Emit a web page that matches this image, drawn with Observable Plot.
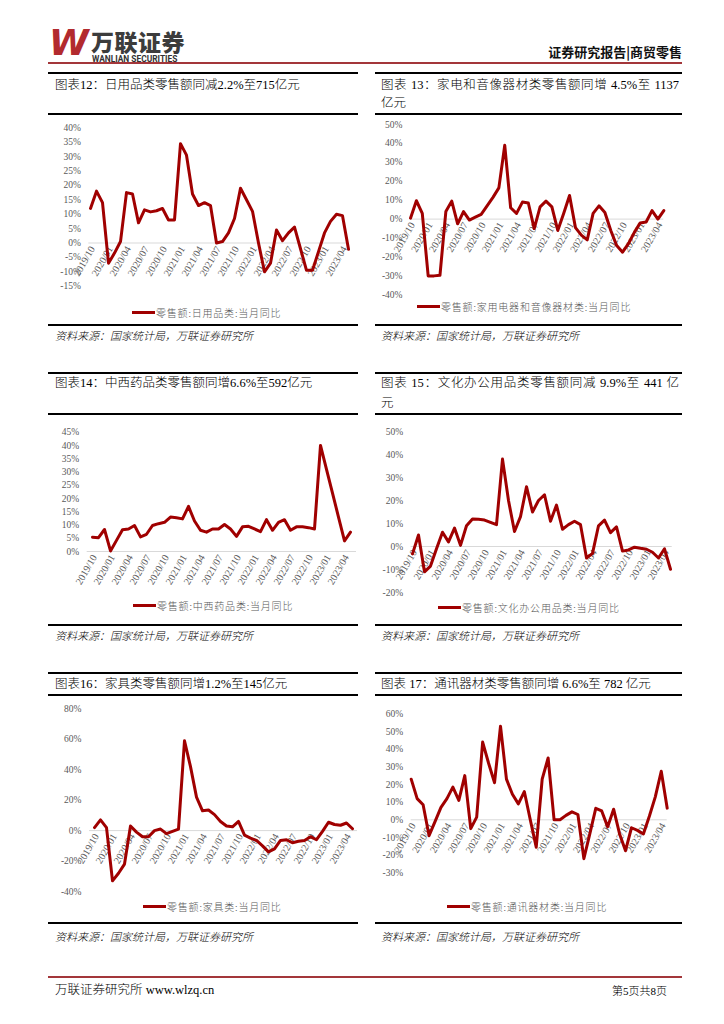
<!DOCTYPE html>
<html><head><meta charset="utf-8">
<script src="https://cdn.jsdelivr.net/npm/d3@7"></script>
<script src="https://cdn.jsdelivr.net/npm/@observablehq/plot@0.6"></script>
<style>
body{margin:0;background:#fff;}
#page{position:relative;width:724px;height:1024px;overflow:hidden;background:#fff;font-family:"Liberation Serif","Noto Sans CJK SC",serif;color:#000;}
.rule{position:absolute;height:2px;background:#000;}
.title{position:absolute;font-size:12.5px;line-height:18px;white-space:nowrap;font-weight:300;}
.just{text-align:justify;text-align-last:justify;white-space:normal;}
.src{position:absolute;font-size:11px;font-style:italic;line-height:14px;white-space:nowrap;font-weight:300;}
.legend{position:absolute;display:flex;align-items:center;height:14px;font-family:"Noto Sans CJK SC",sans-serif;font-size:10px;font-weight:300;color:#595959;letter-spacing:0.8px;white-space:nowrap;}
.legend .sw{display:inline-block;width:23px;height:3px;background:#a00000;margin-right:1px;}
.chart{position:absolute;}
.chart svg{overflow:visible;}
</style></head>
<body><div id="page">
  <!-- header -->
  <div style="position:absolute;left:49px;top:23px;font-family:'DejaVu Sans',sans-serif;font-weight:bold;font-style:italic;font-size:36px;color:#b22a2e;line-height:40px;letter-spacing:-2px;">W</div>
  <div style="position:absolute;left:91px;top:30px;font-family:'Noto Sans CJK SC';font-weight:900;font-size:23px;line-height:22px;color:#3c3c3c;letter-spacing:0.5px;">万联证券</div>
  <div style="position:absolute;left:92px;top:55.5px;font-family:Roboto,sans-serif;font-weight:bold;font-size:8.4px;line-height:7px;color:#333;">WANLIAN SECURITIES</div>
  <div style="position:absolute;right:42px;top:44px;font-family:'Noto Sans CJK SC';font-weight:bold;font-size:13px;line-height:16px;color:#111;">证券研究报告|商贸零售</div>
  <div style="position:absolute;left:48px;top:62px;width:634px;height:1.5px;background:#a3363a;"></div>

  <!-- row 1 -->
  <div class="rule" style="left:48px;top:72px;width:310px;"></div>
  <div class="rule" style="left:375px;top:72px;width:307px;"></div>
  <div class="title" style="left:55px;top:76px;">图表12：日用品类零售额同减2.2%至715亿元</div>
  <div class="title just" style="left:381px;top:76px;width:298px;">图表 13：家电和音像器材类零售额同增 4.5%至 1137</div>
  <div class="title" style="left:381px;top:94px;">亿元</div>
  <div class="rule" style="left:48px;top:113px;width:310px;"></div>
  <div class="rule" style="left:375px;top:113px;width:307px;"></div>
  <div class="rule" style="left:48px;top:324px;width:310px;"></div>
  <div class="rule" style="left:375px;top:324px;width:307px;"></div>
  <div class="src" style="left:55px;top:329px;">资料来源：国家统计局，万联证券研究所</div>
  <div class="src" style="left:381px;top:329px;">资料来源：国家统计局，万联证券研究所</div>

  <!-- row 2 -->
  <div class="rule" style="left:48px;top:372px;width:310px;"></div>
  <div class="rule" style="left:375px;top:372px;width:307px;"></div>
  <div class="title" style="left:55px;top:374px;">图表14：中西药品类零售额同增6.6%至592亿元</div>
  <div class="title just" style="left:381px;top:374px;width:298px;">图表 15：文化办公用品类零售额同减 9.9%至 441 亿</div>
  <div class="title" style="left:381px;top:394px;">元</div>
  <div class="rule" style="left:48px;top:413px;width:310px;"></div>
  <div class="rule" style="left:375px;top:413px;width:307px;"></div>
  <div class="rule" style="left:48px;top:624px;width:310px;"></div>
  <div class="rule" style="left:375px;top:624px;width:307px;"></div>
  <div class="src" style="left:55px;top:629px;">资料来源：国家统计局，万联证券研究所</div>
  <div class="src" style="left:381px;top:629px;">资料来源：国家统计局，万联证券研究所</div>

  <!-- row 3 -->
  <div class="rule" style="left:48px;top:672px;width:310px;"></div>
  <div class="rule" style="left:375px;top:672px;width:307px;"></div>
  <div class="title" style="left:55px;top:675px;">图表16：家具类零售额同增1.2%至145亿元</div>
  <div class="title" style="left:381px;top:675px;">图表 17：通讯器材类零售额同增 6.6%至 782 亿元</div>
  <div class="rule" style="left:48px;top:694px;width:310px;"></div>
  <div class="rule" style="left:375px;top:694px;width:307px;"></div>
  <div class="rule" style="left:48px;top:922px;width:310px;"></div>
  <div class="rule" style="left:375px;top:922px;width:307px;"></div>
  <div class="src" style="left:55px;top:930px;">资料来源：国家统计局，万联证券研究所</div>
  <div class="src" style="left:381px;top:930px;">资料来源：国家统计局，万联证券研究所</div>

  <!-- footer -->
  <div style="position:absolute;left:48px;top:976px;width:634px;height:2px;background:#a3363a;"></div>
  <div style="position:absolute;left:55px;top:982px;font-size:12.5px;line-height:16px;font-weight:300;">万联证券研究所 www.wlzq.cn</div>
  <div style="position:absolute;right:57px;top:983px;font-size:11px;line-height:16px;font-weight:300;">第5页共8页</div>
</div>
<script>
// ---- categories ----
const months = ["2019/10","2019/11","2019/12",
  "2020/01","2020/02","2020/03","2020/04","2020/05","2020/06","2020/07","2020/08","2020/09","2020/10","2020/11","2020/12",
  "2021/01","2021/02","2021/03","2021/04","2021/05","2021/06","2021/07","2021/08","2021/09","2021/10","2021/11","2021/12",
  "2022/01","2022/02","2022/03","2022/04","2022/05","2022/06","2022/07","2022/08","2022/09","2022/10","2022/11","2022/12",
  "2023/01","2023/02","2023/03","2023/04","2023/05"];
const tickLabels = ["2019/10","2020/01","2020/04","2020/07","2020/10","2021/01","2021/04","2021/07","2021/10","2022/01","2022/04","2022/07","2022/10","2023/01","2023/04"];

// ---- series values (%), 当月同比 ----
const dailyGoods = [12, 18, 14, -7, -3.5, 0.5, 17.5, 17, 7, 11.5, 10.8, 11.2, 12, 8, 8, 34.5, 30.5, 17, 13, 14, 13, 0, 0.5, 3.5, 8.5, 19, 15, 11, 0, -10, -7, 4.5, 0.8, 3.5, 5.5, -2, -9.5, -9.5, -3, 3.5, 7.5, 10, 9.5, -2.2];
const appliances = [0.5, 9.7, 3, -30, -30, -29.7, 4, 9.5, -2.5, 4, -0.5, 1, 2.5, 7, 11.5, 16.5, 39, 6, 3, 9, 8.5, -5, 6.5, 9.5, 6.5, -6, 3, 12.5, -4.5, -8.5, -11, 3, 7, 3.5, -6, -14, -17.5, -13, -7, -2, -1.5, 4.5, 0, 4.5];
const medicine = [5.4, 5.2, 8.3, 0.2, 4.2, 8.2, 8.5, 9.8, 5.5, 6.5, 9.8, 10.5, 11, 13, 12.7, 12.3, 17, 11.5, 8, 7.3, 8.5, 8.5, 10.2, 8.5, 5.7, 9.3, 9.5, 8.5, 7.5, 12, 8, 11, 12, 8, 9.3, 9.3, 9, 8.5, 40, 31, 22, 13, 4, 7.3];
const office = [-3.2, 5, -11, -8.5, -1, 6.2, 2, 8, 0.5, 9, 12, 11.8, 11.5, 10.5, 9.5, 38, 20, 6.5, 13, 26, 15, 20, 22.5, 11, 18, 7.5, 9.5, 11, 9.5, -5, -3, 9, 11.5, 6, 8.5, -2, -1.5, -0.3, -0.8, -1.2, -2.5, -5, -1, -9.9];
const furniture = [2, 7, 2, -33, -28, -22, 3, -1, -4, -4, 0, 1, -2, -0.5, 1, 59, 42, 22, 13, 13.5, 10.5, 6, 3, 2.5, 6, -3, -5, -6.5, -10, -14, -12, -6.5, -6, -8, -7, -6.5, -4, -6, -0.5, 5.5, 4, 3.5, 5, 1.2];
const telecom = [23, 12, 8.5, -9, -1, 7, 12, 18.5, 11, 25, -5, 1.5, 44, 32, 21, 53, 23, 14.5, 9, 16, 0, -15.5, 23, 35, 0, 0, 2.5, 4.5, 3, -22, -8, 6.5, 5, -4, 6, -8, -17.5, -4.5, -6, -8, 2, 13, 27.5, 6.6];

// ---- y tick labels ----
const ticks12 = [40, 35, 30, 25, 20, 15, 10, 5, 0, -5, -10, -15];
const ticks13 = [50, 40, 30, 20, 10, 0, -10, -20, -30, -40];
const ticks14 = [45, 40, 35, 30, 25, 20, 15, 10, 5, 0];
const ticks15 = [50, 40, 30, 20, 10, 0, -10, -20];
const ticks16 = [80, 60, 40, 20, 0, -20, -40];
const ticks17 = [60, 50, 40, 30, 20, 10, 0, -10, -20, -30];

// ---- legend texts ----
const legendTexts = ["零售额:日用品类:当月同比","零售额:家用电器和音像器材类:当月同比","零售额:中西药品类:当月同比","零售额:文化办公用品类:当月同比","零售额:家具类:当月同比","零售额:通讯器材类:当月同比"];

const LINE = "#a00000";
const charts = [
  {values: dailyGoods, ticks: ticks12, left:48, top:115, w:310, h:188, ml:40.3, mr:9, mt:12.3, mb:17.3, lgLeft:132, lgY:312},
  {values: appliances, ticks: ticks13, left:376, top:115, w:306, h:190, ml:34, mr:18.7, mt:9, mb:10.7, lgLeft:417, lgY:306.7},
  {values: medicine, ticks: ticks14, left:48, top:420, w:310, h:175, ml:38.7, mr:2, mt:11.7, mb:44, lgLeft:133, lgY:605},
  {values: office, ticks: ticks15, left:376, top:420, w:306, h:180, ml:34.7, mr:10.3, mt:11, mb:8, lgLeft:438, lgY:607},
  {values: furniture, ticks: ticks16, left:48, top:700, w:310, h:198, ml:41, mr:1, mt:8.3, mb:7, lgLeft:143, lgY:906},
  {values: telecom, ticks: ticks17, left:376, top:700, w:306, h:180, ml:34.7, mr:15.3, mt:13.3, mb:7.7, lgLeft:447, lgY:906}
];

const page = document.getElementById("page");
charts.forEach((c, k) => {
  const data = months.map((m, i) => ({month: m, value: c.values[i]}));
  const svg = Plot.plot({
    width: c.w, height: c.h,
    marginLeft: c.ml, marginRight: c.mr, marginTop: c.mt, marginBottom: c.mb,
    style: {background: "transparent", fontFamily: "'Liberation Serif', serif", fontSize: "9.5px", color: "#595959", overflow: "visible"},
    x: {type: "point", domain: months, padding: 0, axis: null},
    y: {domain: [d3.min(c.ticks), d3.max(c.ticks)], ticks: c.ticks, tickFormat: d => d + "%", tickSize: 0, tickPadding: 8, label: null},
    marks: [
      Plot.ruleY([0], {stroke: "#d9d9d9", strokeWidth: 1}),
      Plot.text(tickLabels, {x: d => d, y: () => 0, text: d => d, rotate: -60, textAnchor: "end", dx: 2, dy: 4, fontSize: 10, fill: "#595959"}),
      Plot.line(data, {x: "month", y: "value", stroke: LINE, strokeWidth: 3})
    ]
  });
  const div = document.createElement("div");
  div.className = "chart";
  div.style.left = c.left + "px";
  div.style.top = c.top + "px";
  div.appendChild(svg);
  page.appendChild(div);

  const lg = document.createElement("div");
  lg.className = "legend";
  lg.style.left = c.lgLeft + "px";
  lg.style.top = (c.lgY - 7) + "px";
  const sw = document.createElement("span");
  sw.className = "sw";
  lg.appendChild(sw);
  const t = document.createElement("span");
  t.textContent = legendTexts[k];
  lg.appendChild(t);
  page.appendChild(lg);
});
</script>
</body></html>
